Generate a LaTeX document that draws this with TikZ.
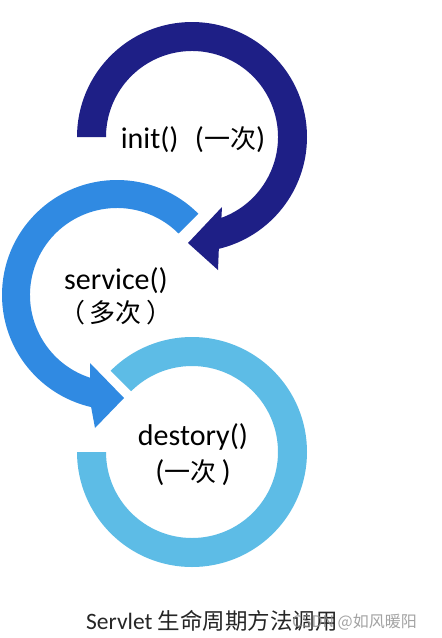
\documentclass[tikz,border=0pt]{standalone}
\usepackage{fontspec}
\setmainfont{Carlito}
\newfontfamily\cjk{Noto Sans CJK SC}
\definecolor{ringA}{RGB}{30,31,134}
\definecolor{ringB}{RGB}{48,138,226}
\definecolor{ringC}{RGB}{93,188,230}
\tikzset{
  lbl/.style={inner sep=0pt, font=\fontsize{30}{32}\selectfont, text=black},
  captext/.style={inner sep=0pt, font=\fontsize{23.5}{26}\selectfont, text=black!85},
  wmark/.style={inner sep=0pt, font=\cjk\fontsize{16}{18}\selectfont, text=black!45, opacity=0.8}
}
\begin{document}
\begin{tikzpicture}[x=1pt,y=-1pt]
\fill[white] (0,0) rectangle (442,638);
\useasboundingbox (0,0) rectangle (442,638);
% ring 1 : init
\fill[ringA] ([shift={(192,137)}]180:115) arc[start angle=180,end angle=436.5,radius=115]
  -- (218,270) -- (188,243) -- (222,207)
  -- ([shift={(192,137)}]430:86) arc[start angle=430,end angle=180,radius=86] -- cycle;
% ring 2 : service
\fill[ringB] ([shift={(117,295)}]315:115) arc[start angle=315,end angle=103,radius=115]
  -- (95,428) -- (124,398) -- (90,363)
  -- ([shift={(117,295)}]108:87) arc[start angle=108,end angle=315,radius=87] -- cycle;
% ring 3 : destroy
\fill[ringC] ([shift={(192,452)}]225:115) arc[start angle=225,end angle=540,radius=115]
  -- ([shift={(192,452)}]540:86) arc[start angle=540,end angle=225,radius=86] -- cycle;
% labels
\node[lbl] (init) at (193,140) {init()\hspace{0.55em}({\cjk\fontsize{26}{30}\selectfont 一次})};
\node[lbl] (service) at (116,281) {service()};
\node[lbl] (serviceN) at (116,313) {{\cjk\fontsize{26}{30}\selectfont （\,多次\,）}};
\node[lbl] (destroy) at (193,437) {destory()};
\node[lbl] (destroyN) at (193,473) {({\cjk\fontsize{26}{30}\selectfont 一次}\,)};
% caption
\node[captext] (caption) at (212,621) {Servlet {\cjk\fontsize{22.5}{26}\selectfont 生命周期方法调用}};
\node[wmark, anchor=west] (mark) at (292,622) {CSDN @如风暖阳};
\end{tikzpicture}
\end{document}
